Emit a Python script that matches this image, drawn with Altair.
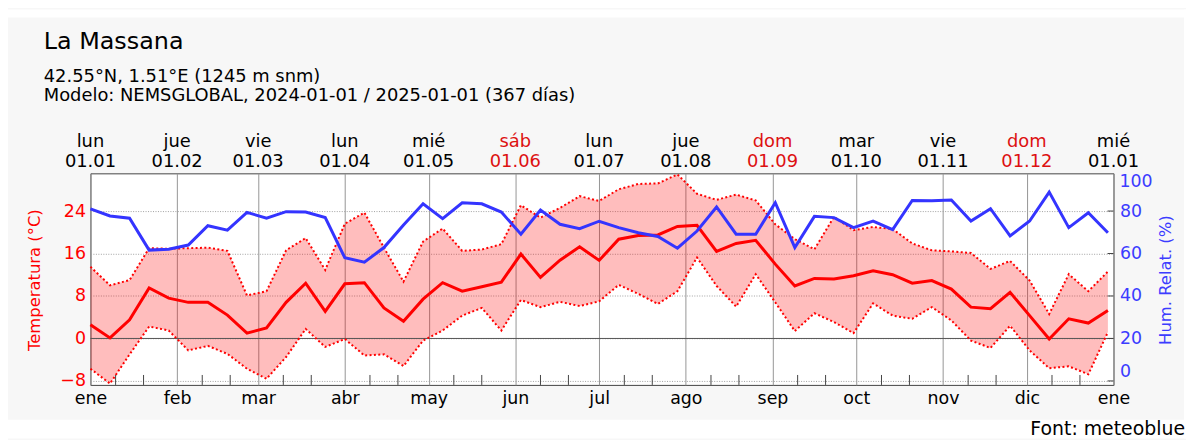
import altair as alt
import pandas as pd

FONT = "DejaVu Sans"

# ---------------- data ----------------
dates = pd.date_range("2024-01-01", periods=53, freq="7D").strftime("%Y-%m-%d").tolist()

t_mean = [2.6, 0.1, 3.5, 9.5, 7.6, 6.8, 6.8, 4.4, 1.0, 2.0, 6.8, 10.4, 5.1, 10.3,
          10.5, 5.75, 3.25, 7.4, 10.5, 8.9, 9.75, 10.6, 15.9, 11.5, 14.75, 17.25, 14.7,
          18.7, 19.4, 19.5, 21.1, 21.3, 16.4, 17.9, 18.5, 14.0, 9.9, 11.3, 11.2, 11.8,
          12.75, 12.0, 10.4, 10.9, 9.3, 5.9, 5.6, 8.7, 4.3, -0.1, 3.7, 2.9, 5.25]

t_max = [13.5, 10.0, 11.0, 17.0, 16.9, 17.0, 17.1, 16.5, 8.1, 8.9, 16.6, 18.9, 12.9, 21.6,
         23.7, 17.1, 10.7, 18.25, 20.7, 16.5, 16.75, 17.75, 25.1, 22.75, 24.6, 26.8, 25.9,
         28.1, 29.1, 29.2, 30.9, 27.25, 26.1, 27.1, 26.0, 21.5, 18.7, 16.8, 22.9, 20.4,
         21.0, 20.6, 17.9, 16.6, 16.4, 16.1, 13.1, 14.6, 10.9, 4.6, 12.1, 8.9, 12.6]

t_min = [-5.7, -8.5, -3.0, 2.25, 1.5, -2.25, -1.4, -2.9, -5.7, -7.6, -3.5, 1.8, -1.6, -0.1,
         -3.2, -3.0, -5.2, -0.4, 1.5, 4.3, 5.75, 1.5, 7.25, 5.9, 6.9, 6.1, 7.0,
         10.1, 8.4, 6.5, 8.9, 15.25, 9.9, 6.0, 12.1, 6.8, 1.4, 4.75, 3.1, 1.0,
         6.6, 4.3, 3.7, 5.9, 3.4, -0.4, -1.8, 2.4, -2.25, -5.6, -5.25, -6.75, 1.2]

humidity = [81, 77.7, 76.6, 61.6, 62, 64, 73.1, 71, 79.4, 76.6, 79.7, 79.5, 76.9, 58,
            55.9, 62.8, 73.4, 83.4, 76.4, 83.9, 83.4, 79.5, 69.1, 80.5, 73.75, 71.7, 75.2,
            72.2, 69.8, 68, 62.5, 70.6, 81.9, 69.1, 69.1, 83.9, 62.8, 77.5, 76.9, 72.2,
            75.3, 71.25, 85, 84.8, 85.2, 75.3, 81.1, 68.3, 75.3, 88.9, 72.2, 79.2, 69.8]

month_starts = ["2024-01-01", "2024-02-01", "2024-03-01", "2024-04-01", "2024-05-01",
                "2024-06-01", "2024-07-01", "2024-08-01", "2024-09-01", "2024-10-01",
                "2024-11-01", "2024-12-01", "2025-01-01"]
top_dow = ["lun", "jue", "vie", "lun", "mié", "sáb", "lun", "jue", "dom", "mar", "vie", "dom", "mié"]
top_dm = ["01.01", "01.02", "01.03", "01.04", "01.05", "01.06", "01.07", "01.08",
          "01.09", "01.10", "01.11", "01.12", "01.01"]
weekend = [False, False, False, False, False, True, False, False, True, False, False, True, False]
month_names = ["ene", "feb", "mar", "abr", "may", "jun", "jul", "ago", "sep", "oct", "nov", "dic"]
minor_ticks = [f"2024-{m:02d}-{d}" for m in range(1, 13) for d in (10, 20)]

temp_ticks = [-8, 0, 8, 16, 24]
hum_ticks = [0, 20, 40, 60, 80]

# ---------------- styling ----------------
RED = "#ff0000"
BLUE = "#3434ff"
BLUE_TXT = "#3c3cff"
WEEKEND_RED = "#dd1111"
W, H = 1030, 213
T_DOMAIN = [-8.75, 31.1]
H_DOMAIN = [20 + 2.5 * T_DOMAIN[0], 20 + 2.5 * T_DOMAIN[1]]
TICK_FS = 17.5
TITLE_FS = 16.5


def ts(s):
    return int(pd.Timestamp(s, tz="UTC").timestamp() * 1000)


x_domain = [ts("2024-01-01"), ts("2025-01-01")]
x_axis = alt.Axis(
    values=[ts(s) for s in month_starts], grid=True, gridColor="#959595", gridWidth=1,
    ticks=False, tickSize=0, domain=False, labelFlush=False, labelPadding=5,
    labelFontSize=TICK_FS, labelColor="#000", labelFont=FONT,
    labelExpr="[" + ",".join(f"'{m}'" for m in month_names) + "][utcmonth(datum.value)]",
    title=None)


def xenc():
    return alt.X("date:T", scale=alt.Scale(type="utc", domain=x_domain), axis=x_axis, title=None)


t_scale = alt.Scale(domain=T_DOMAIN, nice=False, zero=False)
t_axis = alt.Axis(
    values=temp_ticks, grid=True, gridColor="#a0a0a0", gridDash=[1, 1.5], gridWidth=1,
    ticks=False, tickSize=0, domain=False, labelFlush=False, labelPadding=5,
    labelFontSize=TICK_FS, labelColor=RED, labelFont=FONT,
    title="Temperatura (°C)", titleColor=RED, titleFontSize=TITLE_FS, titleFont=FONT,
    titleFontWeight="normal", titleAngle=270, titleX=-56, titleY=107,
    titleBaseline="middle", titleAlign="center")

h_scale = alt.Scale(domain=H_DOMAIN, nice=False, zero=False)
h_axis = alt.Axis(
    orient="right", values=hum_ticks, grid=False, ticks=False, tickSize=0, domain=False,
    labelFlush=10, labelPadding=6, labelFontSize=TICK_FS, labelColor=BLUE_TXT, labelFont=FONT,
    title="Hum. Relat. (%)", titleColor=BLUE_TXT, titleFontSize=TITLE_FS, titleFont=FONT,
    titleFontWeight="normal", titleAngle=270, titleX=52, titleY=107,
    titleBaseline="middle", titleAlign="center")

df = pd.DataFrame({"date": dates, "tmean": t_mean, "tmax": t_max, "tmin": t_min, "hum": humidity})
base = alt.Chart(df)

area = base.mark_area(color=RED, opacity=0.26).encode(
    x=xenc(), y=alt.Y("tmin:Q", scale=t_scale, axis=t_axis), y2="tmax:Q")
line_max = base.mark_line(color=RED, strokeWidth=2, strokeDash=[2, 2.4]).encode(
    x=xenc(), y=alt.Y("tmax:Q", scale=t_scale, axis=t_axis))
line_min = base.mark_line(color=RED, strokeWidth=2, strokeDash=[2, 2.4]).encode(
    x=xenc(), y=alt.Y("tmin:Q", scale=t_scale, axis=t_axis))
zero_rule = alt.Chart(alt.Data(values=[{"v": 0}])).mark_rule(color="#555", strokeWidth=1).encode(
    y=alt.Y("v:Q", scale=t_scale, axis=t_axis))
line_mean = base.mark_line(color=RED, strokeWidth=3).encode(
    x=xenc(), y=alt.Y("tmean:Q", scale=t_scale, axis=t_axis))

temp_layer = alt.layer(area, zero_rule, line_max, line_min, line_mean)

hum_line = base.mark_line(color=BLUE, strokeWidth=3).encode(
    x=xenc(), y=alt.Y("hum:Q", scale=h_scale, axis=h_axis))
hum_tick_marks = alt.Chart(pd.DataFrame({"hum": hum_ticks})).mark_rule(color="#444", strokeWidth=1).encode(
    x=alt.value(W - 6), x2=alt.value(W), y=alt.Y("hum:Q", scale=h_scale, axis=h_axis))
hum_layer = alt.layer(hum_line, hum_tick_marks)

minor = alt.Chart(pd.DataFrame({"date": minor_ticks})).mark_rule(color="#444", strokeWidth=1).encode(
    x=xenc(), y=alt.value(H - 10), y2=alt.value(H))

top_df = pd.DataFrame({"date": month_starts, "dow": top_dow, "dm": top_dm,
                       "col": [WEEKEND_RED if w else "#000" for w in weekend]})
top_dow_txt = alt.Chart(top_df).mark_text(fontSize=18, font=FONT, align="center", baseline="alphabetic").encode(
    x=xenc(), y=alt.value(-26.5), text="dow:N", color=alt.Color("col:N", scale=None))
top_dm_txt = alt.Chart(top_df).mark_text(fontSize=18, font=FONT, align="center", baseline="alphabetic").encode(
    x=xenc(), y=alt.value(-6.5), text="dm:N", color=alt.Color("col:N", scale=None))


def label(txt, x, y, size, align="left", color="#000", baseline="alphabetic"):
    return alt.Chart(alt.Data(values=[{"t": txt}])).mark_text(
        align=align, baseline=baseline, fontSize=size, color=color, font=FONT).encode(
        x=alt.value(x), y=alt.value(y), text="t:N")


def strip(x1, x2, y1, y2):
    return alt.Chart(alt.Data(values=[{}])).mark_rect(color="#ffffff").encode(
        x=alt.value(x1), x2=alt.value(x2), y=alt.value(y1), y2=alt.value(y2))


title = label("La Massana", -47, -124.7, 24)
sub1 = label("42.55°N, 1.51°E (1245 m snm)", -47, -91.8, 18)
sub2 = label("Modelo: NEMSGLOBAL, 2024-01-01 / 2025-01-01 (367 días)", -47, -72.7, 18)
hum100 = label("100", W + 6, 0, TICK_FS, color=BLUE_TXT, baseline="top")
source = label("Font: meteoblue", 1102, 263.5, 19, align="right")

chart = alt.layer(
    temp_layer, hum_layer, minor, top_dow_txt, top_dm_txt,
    strip(-83, 1103, 248, 267), strip(-83, 1103, -165, -157), strip(1101, 1103, -165, 267),
    title, sub1, sub2, hum100, source,
).resolve_scale(y="independent").properties(
    width=W, height=H,
    padding={"left": 83, "top": 165, "right": 73, "bottom": 54},
    autosize=alt.AutoSizeParams(type="none"),
    background="#f7f7f7",
).configure(font=FONT).configure_view(fill="#ffffff", stroke="#444444", strokeWidth=1)

chart.save("out.html", embed_options={"renderer": "svg", "actions": False})
